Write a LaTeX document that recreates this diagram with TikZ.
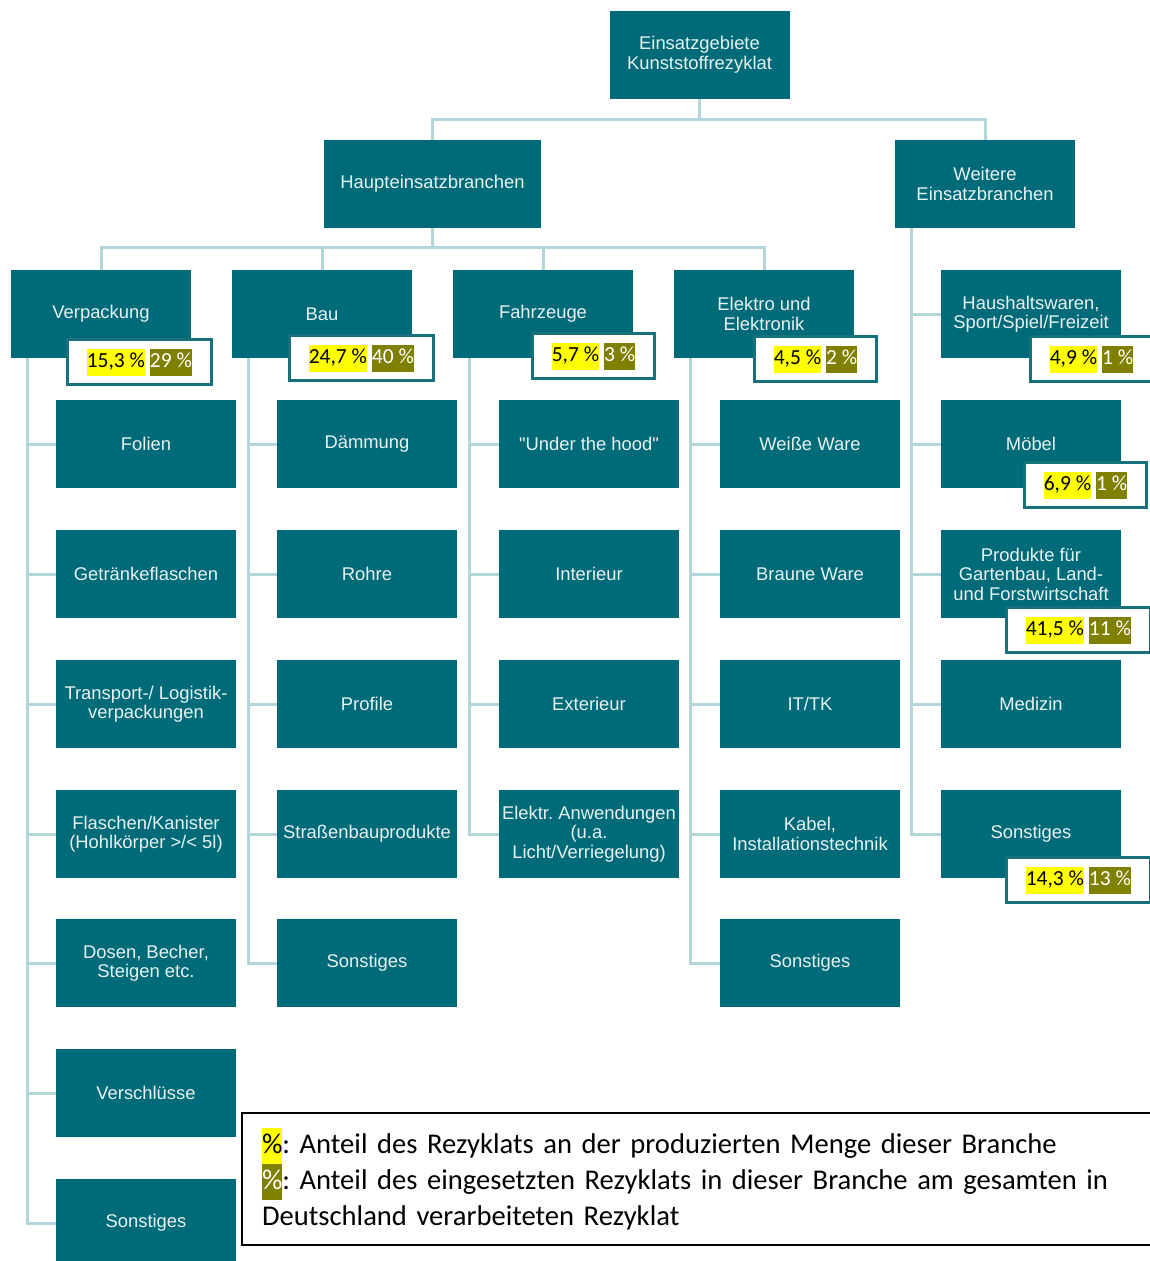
\documentclass[tikz,border=0pt]{standalone}
\usepackage{fontspec}
\usepackage{tikz}
\usetikzlibrary{calc}
\newfontfamily\arialfam{Liberation Sans}
\newfontfamily\calfam{Carlito}
\definecolor{tealbox}{HTML}{006B78}
\definecolor{boxtext}{HTML}{E8F1F2}
\definecolor{connline}{HTML}{B4D6DB}
\definecolor{pctframe}{HTML}{16717D}
\definecolor{hlyellow}{HTML}{FFFF00}
\definecolor{hlolive}{HTML}{808000}
\setlength{\fboxsep}{0pt}
\frenchspacing
\newcommand{\pctpair}[2]{\colorbox{hlyellow}{\strut #1~\%} \colorbox{hlolive}{\strut\textcolor{white}{#2~\%}}}
\tikzset{teal box/.style={fill=tealbox, text=boxtext, minimum width=180, minimum height=88, inner sep=0pt, align=center, font={\arialfam\fontsize{18.4}{19.5}\selectfont}}}
\tikzset{conn/.style={draw=connline, line width=3pt}}
\tikzset{pct box/.style={draw=pctframe, line width=3pt, fill=white, minimum height=45, inner xsep=19.5pt, inner ysep=0pt, font={\calfam\fontsize{21.5}{27}\selectfont}}}
\tikzset{legend box/.style={draw=black, line width=2pt, fill=white, text width=871, minimum height=132, inner xsep=20pt, align=left, font={\calfam\fontsize{28.6}{36}\selectfont}}}

\begin{document}
\begin{tikzpicture}[x=1pt,y=-1pt]
\clip (0,0) rectangle (1150,1261);

% top
\node[teal box] (root) at (699.5,54.5) {Einsatzgebiete\\Kunststoffrezyklat};
\node[teal box, minimum width=217] (haupt) at (432.5,184) {Haupteinsatzbranchen};
\node[teal box] (weitere) at (985,184) {Weitere\\Einsatzbranchen};

% Haupteinsatzbranchen
\node[teal box] (verp) at (101,314) {Verpackung};
\node[teal box] (bau) at (322,314) {Bau};
\node[teal box] (fahr) at (543,314) {Fahrzeuge};
\node[teal box] (elek) at (764,314) {Elektro und\\Elektronik};

\node[teal box] (v1) at (146,444) {Folien};
\node[teal box] (v2) at (146,574) {Getränkeflaschen};
\node[teal box] (v3) at (146,704) {Transport-/ Logistik-\\verpackungen};
\node[teal box] (v4) at (146,834) {Flaschen/Kanister\\(Hohlkörper >/< 5l)};
\node[teal box] (v5) at (146,963) {Dosen, Becher,\\Steigen etc.};
\node[teal box] (v6) at (146,1093) {Verschlüsse};
\node[teal box] (v7) at (146,1223) {Sonstiges};

\node[teal box] (b1) at (367,444) {Dämmung};
\node[teal box] (b2) at (367,574) {Rohre};
\node[teal box] (b3) at (367,704) {Profile};
\node[teal box] (b4) at (367,834) {Straßenbauprodukte};
\node[teal box] (b5) at (367,963) {Sonstiges};

\node[teal box] (f1) at (589,444) {\textquotedbl Under the hood\textquotedbl};
\node[teal box] (f2) at (589,574) {Interieur};
\node[teal box] (f3) at (589,704) {Exterieur};
\node[teal box] (f4) at (589,834) {Elektr. Anwendungen\\(u.a.\\Licht/Verriegelung)};

\node[teal box] (e1) at (810,444) {Weiße Ware};
\node[teal box] (e2) at (810,574) {Braune Ware};
\node[teal box] (e3) at (810,704) {IT/TK};
\node[teal box] (e4) at (810,834) {Kabel,\\Installationstechnik};
\node[teal box] (e5) at (810,963) {Sonstiges};

% Weitere Einsatzbranchen
\node[teal box] (w1) at (1031,314) {Haushaltswaren,\\Sport/Spiel/Freizeit};
\node[teal box] (w2) at (1031,444) {Möbel};
\node[teal box] (w3) at (1031,574) {Produkte für\\Gartenbau, Land-\\und Forstwirtschaft};
\node[teal box] (w4) at (1031,704) {Medizin};
\node[teal box] (w5) at (1031,834) {Sonstiges};

% connectors
\draw[conn] (root.south) -- ++(0,21) -| (haupt.north);
\draw[conn] (root.south) -- ++(0,21) -| (weitere.north);
\draw[conn] (haupt.south) -- ++(0,19) -| (verp.north);
\draw[conn] (haupt.south) -- ++(0,19) -| (bau.north);
\draw[conn] (haupt.south) -- ++(0,19) -| (fahr.north);
\draw[conn] (haupt.south) -- ++(0,19) -| (elek.north);

\draw[conn] ($(verp.south west)+(17,0)$) |- (v1.west);
\draw[conn] ($(verp.south west)+(17,0)$) |- (v2.west);
\draw[conn] ($(verp.south west)+(17,0)$) |- (v3.west);
\draw[conn] ($(verp.south west)+(17,0)$) |- (v4.west);
\draw[conn] ($(verp.south west)+(17,0)$) |- (v5.west);
\draw[conn] ($(verp.south west)+(17,0)$) |- (v6.west);
\draw[conn] ($(verp.south west)+(17,0)$) |- (v7.west);

\draw[conn] ($(bau.south west)+(17,0)$) |- (b1.west);
\draw[conn] ($(bau.south west)+(17,0)$) |- (b2.west);
\draw[conn] ($(bau.south west)+(17,0)$) |- (b3.west);
\draw[conn] ($(bau.south west)+(17,0)$) |- (b4.west);
\draw[conn] ($(bau.south west)+(17,0)$) |- (b5.west);

\draw[conn] ($(fahr.south west)+(17,0)$) |- (f1.west);
\draw[conn] ($(fahr.south west)+(17,0)$) |- (f2.west);
\draw[conn] ($(fahr.south west)+(17,0)$) |- (f3.west);
\draw[conn] ($(fahr.south west)+(17,0)$) |- (f4.west);

\draw[conn] ($(elek.south west)+(17,0)$) |- (e1.west);
\draw[conn] ($(elek.south west)+(17,0)$) |- (e2.west);
\draw[conn] ($(elek.south west)+(17,0)$) |- (e3.west);
\draw[conn] ($(elek.south west)+(17,0)$) |- (e4.west);
\draw[conn] ($(elek.south west)+(17,0)$) |- (e5.west);

\draw[conn] ($(weitere.south west)+(17,0)$) |- (w1.west);
\draw[conn] ($(weitere.south west)+(17,0)$) |- (w2.west);
\draw[conn] ($(weitere.south west)+(17,0)$) |- (w3.west);
\draw[conn] ($(weitere.south west)+(17,0)$) |- (w4.west);
\draw[conn] ($(weitere.south west)+(17,0)$) |- (w5.west);

% percentages
\node[pct box, anchor=west] (pverp) at ($(verp.south west)+(55,4)$) {\pctpair{15,3}{29}};
\node[pct box, anchor=west] (pbau) at ($(bau.south west)+(56,0)$) {\pctpair{24,7}{40}};
\node[pct box, anchor=west] (pfahr) at ($(fahr.south west)+(78,-2)$) {\pctpair{5,7}{3}};
\node[pct box, anchor=west] (pelek) at ($(elek.south west)+(79,1)$) {\pctpair{4,5}{2}};
\node[pct box, anchor=west] (pw1) at ($(w1.south west)+(88,1)$) {\pctpair{4,9}{1}};
\node[pct box, anchor=west] (pw2) at ($(w2.south west)+(82,-3)$) {\pctpair{6,9}{1}};
\node[pct box, anchor=west] (pw3) at ($(w3.south west)+(64,12)$) {\pctpair{41,5}{11}};
\node[pct box, anchor=west] (pw5) at ($(w5.south west)+(64,2)$) {\pctpair{14,3}{13}};

% legend
\node[legend box, anchor=north west] (legend) at (241,1112) {\colorbox{hlyellow}{\strut\%}: Anteil des Rezyklats an der produzierten Menge dieser Branche\\
\colorbox{hlolive}{\strut\textcolor{white}{\%}}: Anteil des eingesetzten Rezyklats in dieser Branche am gesamten in\\
Deutschland verarbeiteten Rezyklat};
\end{tikzpicture}
\end{document}
